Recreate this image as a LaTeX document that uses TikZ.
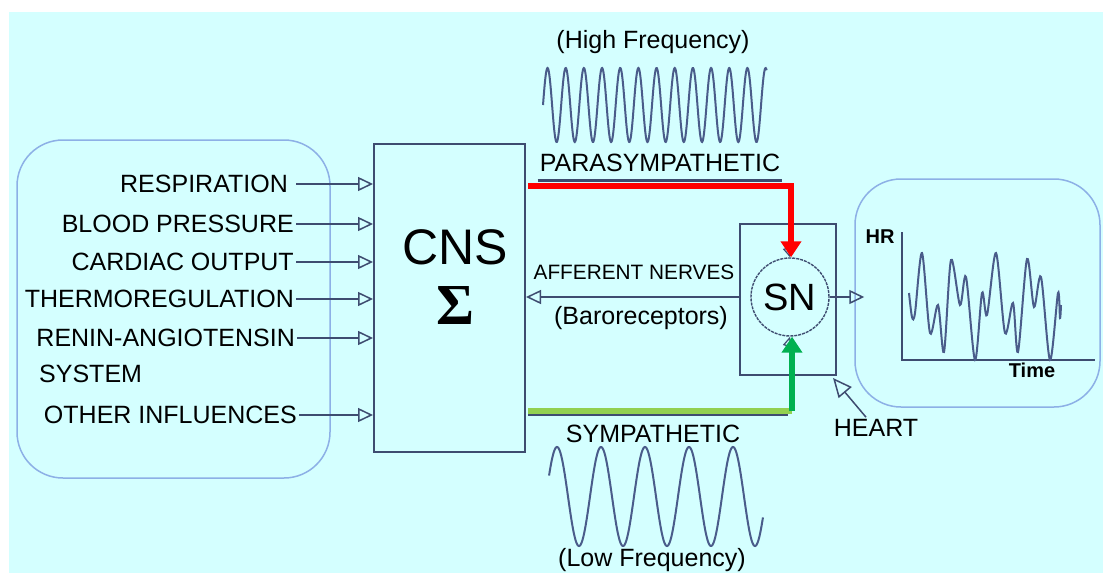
\documentclass[tikz,border=0pt]{standalone}
\usepackage{fontspec}
\setmainfont{Liberation Sans}
\newfontfamily\sigmafont{Liberation Serif}
\usetikzlibrary{arrows.meta}
\definecolor{bgcyan}{HTML}{D4FFFF}
\definecolor{linegray}{HTML}{3E4C70}
\definecolor{boxblue}{HTML}{8DB0E6}
\definecolor{wavecol}{HTML}{4A5C8A}
\definecolor{paragreen}{HTML}{92D050}
\definecolor{symgreen}{HTML}{00B050}
\tikzset{
  lbl/.style={font=\fontsize{25}{29}\selectfont, inner sep=2pt},
  smalllbl/.style={font=\fontsize{20.8}{24}\selectfont, inner sep=2pt},
  axislbl/.style={font=\fontsize{20}{24}\selectfont\bfseries, inner sep=1pt},
  roundbox/.style={draw=boxblue, line width=1.5pt, rounded corners=46pt},
  blockbox/.style={draw=linegray, line width=2pt},
  inarrow/.style={draw=linegray, line width=1.5pt, -{Triangle[open, length=15pt, width=14pt, line width=1.5pt]}},
  wave/.style={draw=wavecol, line width=2pt},
  redarrow/.style={draw=red, line width=6pt, -{Triangle[length=16pt, width=20pt]}},
  greenarrow/.style={draw=symgreen, line width=6pt, -{Triangle[length=16pt, width=20pt]}}
}
\begin{document}
\begin{tikzpicture}[x=1pt,y=-1pt]
\useasboundingbox (0,0) rectangle (1103,573);
\fill[white] (0,0) rectangle (1103,573);
\fill[bgcyan] (9,12) rectangle (1103,573);

% boxes
\node[roundbox, minimum width=313pt, minimum height=338pt] (inputs) at (173.5,309) {};
\node[roundbox, minimum width=245pt, minimum height=228pt] (hrbox) at (977.5,293) {};
\node[blockbox, minimum width=151pt, minimum height=308pt] (cns) at (449.5,298) {};
\node[blockbox, minimum width=96pt, minimum height=151pt] (heart) at (788,299.5) {};
\node[circle, draw=linegray, line width=1.4pt, dash pattern=on 3pt off 1pt, minimum size=78pt, inner sep=0pt, font=\fontsize{38}{40}\selectfont] (sn) at (790,297) {SN};
\node[font=\fontsize{50}{52}\selectfont] (cnstxt) at (455,247) {CNS};
\node[font=\fontsize{58}{60}\sigmafont\bfseries] (sigma) at (455,306) {Σ};

% inputs
\node[lbl, anchor=east] (resp) at (290,184) {RESPIRATION};
\node[lbl, anchor=east] (bp) at (296,224) {BLOOD PRESSURE};
\node[lbl, anchor=east] (co) at (296,262) {CARDIAC OUTPUT};
\node[lbl, anchor=east] (thermo) at (296,299) {THERMOREGULATION};
\node[lbl, anchor=east] (renin) at (297,338) {RENIN-ANGIOTENSIN};
\node[lbl, anchor=west] (system) at (37,374) {SYSTEM};
\node[lbl, anchor=east] (other) at (299,415) {OTHER INFLUENCES};
\draw[inarrow] ([xshift=6pt]resp.east) -- (resp.east -| cns.west);
\foreach \src in {bp,co,thermo,renin,other}
  \draw[inarrow] (\src.east) -- (\src.east -| cns.west);

% labels
\node[lbl] (hifreq) at (653,42) {(High Frequency)};
\node[lbl] (para) at (660,163) {PARASYMPATHETIC};
\node[smalllbl] (aff) at (634,272) {AFFERENT NERVES};
\node[lbl] (baro) at (641,318) {(Baroreceptors)};
\node[lbl] (symp) at (653,434) {SYMPATHETIC};
\node[lbl] (lofreq) at (652,560) {(Low Frequency)};
\node[lbl] (heartlbl) at (876,428) {HEART};
\node[axislbl] (hr) at (880,237) {HR};
\node[axislbl] (time) at (1032,370) {Time};

% waves
\draw[wave] plot[domain=0:4430, samples=500] ({543+\x/360*18.17},{105-37*sin(\x)});
\draw[wave] plot[domain=25:1775, samples=300] ({546+\x/360*44},{496.5-49.5*sin(\x)});

% efferent paths
\coordinate (paratap) at (528,186);
\coordinate (symptap) at (528,411);
\draw[linegray, line width=3pt] ([yshift=-6pt]para.south west) -- ([yshift=-6pt]para.south east);
\draw[linegray, line width=2pt] ([yshift=-4pt]symptap) -- ([yshift=-4pt]symptap -| heart.south);
\draw[inarrow, -{Triangle[open, length=10pt, width=9pt, line width=1.2pt]}] ([shift={(-4pt,14pt)}]sn.north) -- (sn.north);
\draw[inarrow, -{Triangle[open, length=10pt, width=9pt, line width=1.2pt]}] ([shift={(-4pt,-14pt)}]sn.south) -- (sn.south);
\draw[redarrow] (paratap) -| ([xshift=1pt]sn.north);
\draw[paragreen, line width=6pt] (symptap) -- ([xshift=2pt]symptap -| sn.south);
\draw[greenarrow] ([xshift=2pt]symptap -| sn.south) -- ([xshift=2pt]sn.south);

% afferent and output
\draw[inarrow] (heart.west |- sn.west) -- (cns.east |- sn.west);
\draw[inarrow, shorten >=-10pt] (sn.east) -- (hrbox.west |- sn.east);
\draw[inarrow, -{Triangle[open, length=19pt, width=17pt, line width=1.5pt]}] ([xshift=-10pt]heartlbl.north) -- ([shift={(-4pt,-2pt)}]heart.south east);

% heart rate trace
\draw[linegray, line width=2pt] (902,232) -- (902,360) -- (1095,360);
\draw[wave] plot[smooth, tension=0.5] coordinates {(909,293) (912,317) (915,313) (922,253) (930,333) (938,305) (944,352) (951,260) (960,305) (966,277) (975,360) (982,293) (987,315) (996,253) (1005,333) (1013,303) (1018,352) (1027,259) (1034,307) (1041,277) (1050,360) (1058,293) (1060,318) (1061,305)};
\end{tikzpicture}
\end{document}
